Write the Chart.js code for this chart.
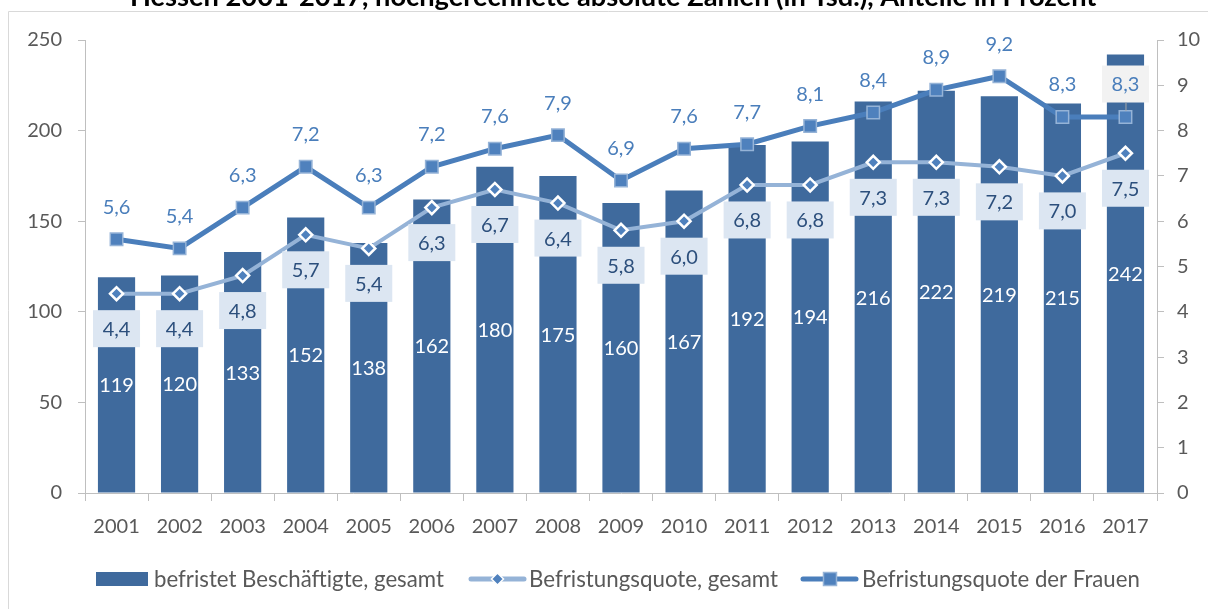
<!DOCTYPE html>
<html>
<head>
<meta charset="utf-8">
<script src="https://cdn.jsdelivr.net/npm/chart.js@4.4.0/dist/chart.umd.min.js"></script>
<style>
html,body{margin:0;padding:0;background:#fff;}
#wrap{width:1208px;height:609px;position:relative;}
</style>
</head>
<body>
<div id="wrap"><canvas id="c" width="1208" height="609"></canvas></div>
<script>
const titleText = "Hessen 2001-2017, hochgerechnete absolute Zahlen (in Tsd.), Anteile in Prozent";
const years = ["2001","2002","2003","2004","2005","2006","2007","2008","2009","2010","2011","2012","2013","2014","2015","2016","2017"];
const befristet = [119,120,133,152,138,162,180,175,160,167,192,194,216,222,219,215,242];
const quoteGesamt = [4.4,4.4,4.8,5.7,5.4,6.3,6.7,6.4,5.8,6.0,6.8,6.8,7.3,7.3,7.2,7.0,7.5];
const quoteFrauen = [5.6,5.4,6.3,7.2,6.3,7.2,7.6,7.9,6.9,7.6,7.7,8.1,8.4,8.9,9.2,8.3,8.3];
const seriesNames = ["befristet Beschäftigte, gesamt","Befristungsquote, gesamt","Befristungsquote der Frauen"];

const FONT = "Lato, 'Open Sans', sans-serif";
const C_BAR = "#3F6A9D";
const C_FR = "#4A7EBB";
const C_GE = "#95B3D7";
const C_TXT = "#595959";
const fmt = v => v.toFixed(1).replace(".", ",");

function fitFont(ctx, text, weight, width){
  let s = 20;
  ctx.font = weight + " " + s + "px " + FONT;
  const w = ctx.measureText(text).width;
  return s * width / w;
}

const decor = {
  id: "decor",
  beforeDraw(chart){
    const ctx = chart.ctx;
    ctx.save();
    ctx.strokeStyle = "#D9D9D9";
    ctx.lineWidth = 1;
    ctx.beginPath();
    ctx.moveTo(8.5, 609);
    ctx.lineTo(8.5, 11.5);
    ctx.lineTo(1208, 11.5);
    ctx.stroke();
    const fs = fitFont(ctx, titleText, "bold", 967);
    ctx.font = "bold " + fs + "px " + FONT;
    ctx.fillStyle = "#000";
    ctx.textAlign = "left";
    ctx.textBaseline = "alphabetic";
    ctx.fillText(titleText, 130, 6);
    ctx.restore();
  },
  afterDatasetsDraw(chart){
    const ctx = chart.ctx;
    ctx.save();
    ctx.font = "20px " + FONT;
    ctx.textAlign = "center";
    ctx.textBaseline = "middle";
    const mb = chart.getDatasetMeta(2);
    mb.data.forEach((el, i) => {
      ctx.fillStyle = "#FFFFFF";
      ctx.fillText(String(befristet[i]), el.x, (el.y + el.base) / 2 + 1);
    });
    const mg = chart.getDatasetMeta(1);
    mg.data.forEach((el, i) => {
      const cy = el.y + 35;
      ctx.fillStyle = "#DCE6F2";
      ctx.fillRect(el.x - 23.5, cy - 18.5, 47, 37);
      ctx.fillStyle = "#2C4F7C";
      ctx.fillText(fmt(quoteGesamt[i]), el.x, cy + 1);
    });
    const mf = chart.getDatasetMeta(0);
    mf.data.forEach((el, i) => {
      const cy = el.y - 33;
      if (i === years.length - 1) {
        ctx.fillStyle = "#F2F2F2";
        ctx.fillRect(el.x - 23.5, cy - 18.5, 47, 37);
        ctx.strokeStyle = "#A6A6A6";
        ctx.lineWidth = 1;
        ctx.beginPath();
        ctx.moveTo(el.x + 0.5, cy + 18.5);
        ctx.lineTo(el.x + 0.5, el.y - 6);
        ctx.stroke();
      }
      ctx.fillStyle = C_FR;
      ctx.fillText(fmt(quoteFrauen[i]), el.x, cy + 1);
    });
    ctx.restore();
  },
  afterDraw(chart){
    const ctx = chart.ctx;
    ctx.save();
    const y = 579;
    ctx.textAlign = "left";
    ctx.textBaseline = "middle";
    ctx.fillStyle = C_BAR;
    ctx.fillRect(96, y - 7, 52, 14);
    let fs = fitFont(ctx, seriesNames[0], "", 290);
    ctx.font = fs + "px " + FONT;
    ctx.fillStyle = C_TXT;
    ctx.fillText(seriesNames[0], 154, y + 1);
    ctx.strokeStyle = C_GE; ctx.lineWidth = 5; ctx.lineCap = "round";
    ctx.beginPath(); ctx.moveTo(471, y); ctx.lineTo(524, y); ctx.stroke();
    ctx.fillStyle = "#4F81BD"; ctx.strokeStyle = "#FFFFFF"; ctx.lineWidth = 1.5;
    ctx.beginPath(); ctx.moveTo(497.5, y - 6); ctx.lineTo(503.5, y); ctx.lineTo(497.5, y + 6); ctx.lineTo(491.5, y); ctx.closePath();
    ctx.fill(); ctx.stroke();
    fs = fitFont(ctx, seriesNames[1], "", 249);
    ctx.font = fs + "px " + FONT;
    ctx.fillStyle = C_TXT;
    ctx.fillText(seriesNames[1], 529, y + 1);
    ctx.strokeStyle = C_FR; ctx.lineWidth = 5;
    ctx.beginPath(); ctx.moveTo(803, y); ctx.lineTo(856, y); ctx.stroke();
    ctx.fillStyle = "#4F81BD"; ctx.strokeStyle = C_GE; ctx.lineWidth = 1.5;
    ctx.fillRect(823.5, y - 6.5, 13, 13); ctx.strokeRect(823.5, y - 6.5, 13, 13);
    fs = fitFont(ctx, seriesNames[2], "", 278);
    ctx.font = fs + "px " + FONT;
    ctx.fillStyle = C_TXT;
    ctx.fillText(seriesNames[2], 862, y + 1);
    ctx.restore();
  }
};

new Chart(document.getElementById("c"), {
  data: {
    labels: years,
    datasets: [
      {
        type: "line", label: seriesNames[2], data: quoteFrauen, yAxisID: "y2", order: 1,
        borderColor: C_FR, borderWidth: 5, tension: 0,
        pointStyle: "rect", pointRadius: 8.8, pointHoverRadius: 8.8,
        pointBackgroundColor: "#4F81BD", pointBorderColor: C_GE, pointBorderWidth: 1.5
      },
      {
        type: "line", label: seriesNames[1], data: quoteGesamt, yAxisID: "y2", order: 2,
        borderColor: C_GE, borderWidth: 4, tension: 0,
        pointStyle: "rectRot", pointRadius: 6.5, pointHoverRadius: 6.5,
        pointBackgroundColor: "#4F81BD", pointBorderColor: "#FFFFFF", pointBorderWidth: 2.5
      },
      {
        type: "bar", label: seriesNames[0], data: befristet, yAxisID: "y", order: 3,
        backgroundColor: C_BAR, barPercentage: 0.59, categoryPercentage: 1
      }
    ]
  },
  options: {
    responsive: false, animation: false, devicePixelRatio: 1,
    layout: { padding: { top: 40, left: 0, right: 0, bottom: 0 } },
    plugins: { legend: { display: false }, title: { display: false }, tooltip: { enabled: false } },
    scales: {
      x: {
        offset: true,
        afterFit: s => { s.height = 116; },
        grid: { offset: true, drawOnChartArea: false, drawTicks: true, tickLength: 8, color: "#BFBFBF" },
        border: { display: true, color: "#BFBFBF" },
        ticks: { color: C_TXT, font: { family: FONT, size: 20 }, padding: 14, maxRotation: 0, autoSkip: false }
      },
      y: {
        position: "left", min: 0, max: 250,
        afterFit: s => { s.width = 85; },
        grid: { drawOnChartArea: false, drawTicks: true, tickLength: 7, color: "#BFBFBF" },
        border: { display: true, color: "#BFBFBF" },
        ticks: { stepSize: 50, color: C_TXT, font: { family: FONT, size: 20 }, padding: 16 }
      },
      y2: {
        position: "right", min: 0, max: 10,
        afterFit: s => { s.width = 51; },
        grid: { drawOnChartArea: false, drawTicks: true, tickLength: 7, color: "#BFBFBF" },
        border: { display: true, color: "#BFBFBF" },
        ticks: { stepSize: 1, color: C_TXT, font: { family: FONT, size: 20 }, padding: 13 }
      }
    }
  },
  plugins: [decor]
});
</script>
</body>
</html>
